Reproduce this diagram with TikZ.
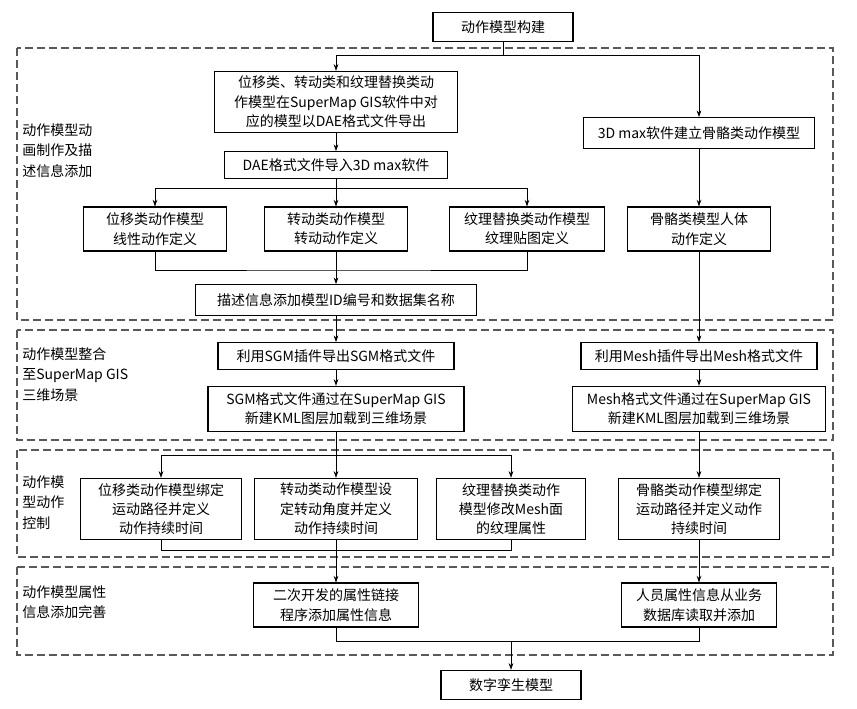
\documentclass[tikz,border=0pt]{standalone}
\usepackage{fontspec}
\setmainfont{Noto Sans CJK SC}
\usetikzlibrary{arrows.meta}
\begin{document}
\begin{tikzpicture}[x=0.75pt,y=-0.75pt,
 box/.style={draw,thick,align=center,inner sep=1pt,font=\fontsize{10.5}{14.5}\selectfont},
 band/.style={draw,thick,dashed,dash pattern=on 6pt off 3pt,gray!70!black},
 lab/.style={align=left,anchor=north west,inner sep=0pt,font=\fontsize{10.5}{15.5}\selectfont},
 ar/.style={-{Stealth[length=5pt,width=3.5pt]},semithick},
 ln/.style={semithick}]
\useasboundingbox (0,0) rectangle (857,708);
\draw[band] (17,48) rectangle (833,320);
\draw[band] (17,330) rectangle (833,440);
\draw[band] (17,450) rectangle (833,557);
\draw[band] (17,567) rectangle (833,655);
\node[lab] (l1) at (22,123) {动作模型动\\画制作及描\\述信息添加};
\node[lab] (l2) at (22,347) {动作模型整合\\至SuperMap GIS\\三维场景};
\node[lab] (l3) at (22,475) {动作模\\型动作\\控制};
\node[lab] (l4) at (22,585) {动作模型属性\\信息添加完善};
\node[box,minimum width=105pt,minimum height=22pt] (top) at (503,27) {动作模型构建};
\node[box,minimum width=182pt,minimum height=46pt] (A) at (336,102) {位移类、转动类和纹理替换类动\\作模型在SuperMap GIS软件中对\\应的模型以DAE格式文件导出};
\node[box,minimum width=173pt,minimum height=23pt] (B) at (699,133) {3D max软件建立骨骼类动作模型};
\node[box,minimum width=167pt,minimum height=20pt] (D) at (336,165) {DAE格式文件导入3D max软件};
\node[box,minimum width=107pt,minimum height=33pt] (c1) at (155,229) {位移类动作模型\\线性动作定义};
\node[box,minimum width=107pt,minimum height=33pt] (c2) at (336,229) {转动类动作模型\\转动动作定义};
\node[box,minimum width=116pt,minimum height=33pt] (c3) at (527,229) {纹理替换类动作模型\\纹理贴图定义};
\node[box,minimum width=107pt,minimum height=33pt] (c4) at (699,229) {骨骼类模型人体\\动作定义};
\node[box,minimum width=211pt,minimum height=23pt] (E) at (336,300) {描述信息添加模型ID编号和数据集名称};
\node[box,minimum width=177pt,minimum height=20pt] (s1) at (336,356) {利用SGM插件导出SGM格式文件};
\node[box,minimum width=177pt,minimum height=20pt] (s2) at (699,356) {利用Mesh插件导出Mesh格式文件};
\node[box,minimum width=192pt,minimum height=34pt] (k1) at (336,409) {SGM格式文件通过在SuperMap GIS\\新建KML图层加载到三维场景};
\node[box,minimum width=190pt,minimum height=34pt] (k2) at (699,409) {Mesh格式文件通过在SuperMap GIS\\新建KML图层加载到三维场景};
\node[box,minimum width=121pt,minimum height=46pt] (d1) at (161,509) {位移类动作模型绑定\\运动路径并定义\\动作持续时间};
\node[box,minimum width=122pt,minimum height=46pt] (d2) at (336,509) {转动类动作模型设\\定转动角度并定义\\动作持续时间};
\node[box,minimum width=112pt,minimum height=46pt] (d3) at (511,509) {纹理替换类动作\\模型修改Mesh面\\的纹理属性};
\node[box,minimum width=121pt,minimum height=46pt] (d4) at (699,509) {骨骼类动作模型绑定\\运动路径并定义动作\\持续时间};
\node[box,minimum width=124pt,minimum height=33pt] (p1) at (336,605) {二次开发的属性链接\\程序添加属性信息};
\node[box,minimum width=116pt,minimum height=33pt] (p2) at (699,605) {人员属性信息从业务\\数据库读取并添加};
\node[box,minimum width=105pt,minimum height=22pt] (fin) at (511,685) {数字孪生模型};
% connectors
\coordinate (j1) at (503,55);
\draw[ln] (top.south) -- (j1);
\draw[ar] (j1) -| (A.north);
\draw[ar] (j1) -| (B.north);
\draw[ar] (A) -- (D);
\coordinate (j2) at (336,188);
\draw[ln] (D.south) -- (j2);
\draw[ar] (j2) -| (c1.north);
\draw[ar] (j2) -- (c2.north);
\draw[ar] (j2) -| (c3.north);
\draw[ar] (B) -- (c4);
\coordinate (j3) at (336,270);
\draw[ln] (c1.south) |- (j3) -| (c3.south);
\draw[ln] (c2.south) -- (j3);
\draw[ar] (j3) -- (E.north);
\draw[ar] (E) -- (s1);
\draw[ar] (c4) -- (s2);
\draw[ar] (s1) -- (k1);
\draw[ar] (s2) -- (k2);
\coordinate (j4) at (336,455);
\draw[ln] (k1.south) -- (j4);
\draw[ar] (j4) -| (d1.north);
\draw[ar] (j4) -- (d2.north);
\draw[ar] (j4) -| (d3.north);
\draw[ar] (k2) -- (d4);
\coordinate (j5) at (336,550);
\draw[ln] (d1.south) |- (j5) -| (d3.south);
\draw[ln] (d2.south) -- (j5);
\draw[ar] (j5) -- (p1.north);
\draw[ar] (d4) -- (p2);
\coordinate (j6) at (511,641);
\draw[ln] (p1.south) |- (j6) -| (p2.south);
\draw[ar] (j6) -- (fin.north);
\end{tikzpicture}
\end{document}
